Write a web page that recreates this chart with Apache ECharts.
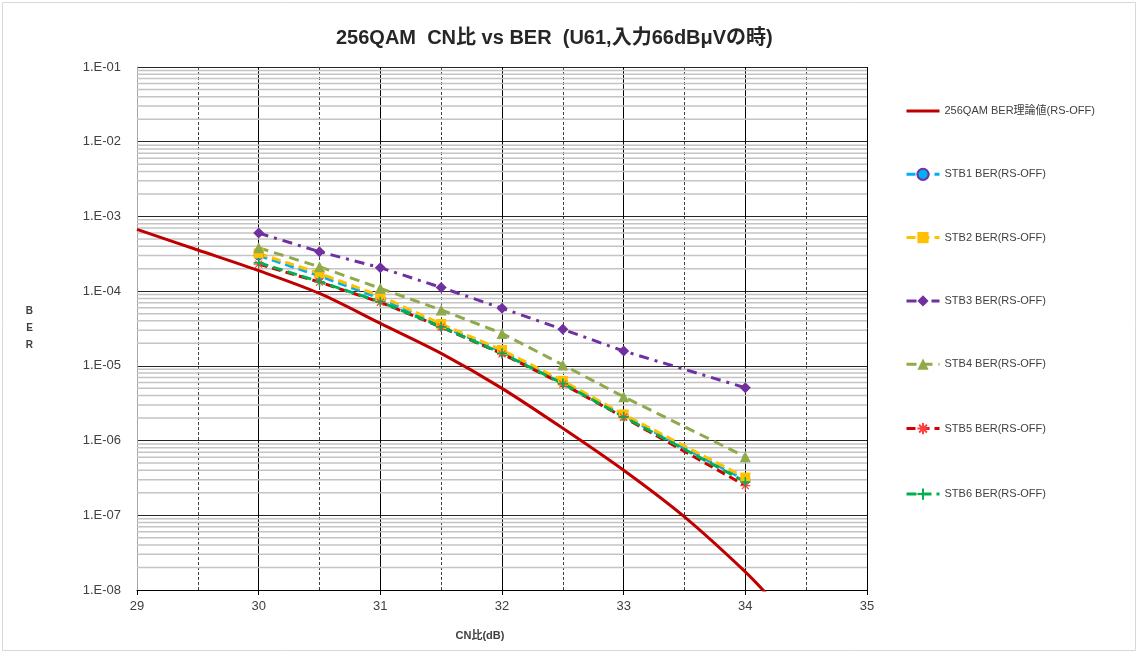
<!DOCTYPE html>
<html><head><meta charset="utf-8">
<script src="https://cdn.jsdelivr.net/npm/echarts@6/dist/echarts.min.js"></script>
<style>html,body{margin:0;padding:0;background:#fff}#c{width:1139px;height:655px}</style>
</head><body><div id="c"></div>
<script>
// ---- data ----
const titleText = '256QAM  CN比 vs BER  (U61,入力66dBμVの時)';
const xName = 'CN比(dB)';
const yName = 'B\nE\nR';
const theoryName = '256QAM BER理論値(RS-OFF)';
const theoryX = [29, 29.5, 30, 30.5, 31, 31.5, 32, 32.5, 33, 33.5, 34, 34.2];
const theoryY = [6.7e-4, 3.55e-4, 1.88e-4, 9.3e-5, 3.7e-5, 1.47e-5, 5.0e-6, 1.46e-6, 4.0e-7, 9.5e-8, 1.75e-8, 8e-9];
const cn = [30, 30.5, 31, 31.5, 32, 32.5, 33, 34];
const stbNames = ['STB1 BER(RS-OFF)','STB2 BER(RS-OFF)','STB3 BER(RS-OFF)','STB4 BER(RS-OFF)','STB5 BER(RS-OFF)','STB6 BER(RS-OFF)'];
const stb1 = [3.0e-4, 1.6e-4, 8.0e-5, 3.45e-5, 1.55e-5, 6.0e-6, 2.15e-6, 2.95e-7];
const stb2 = [3.2e-4, 1.73e-4, 8.6e-5, 3.63e-5, 1.63e-5, 6.3e-6, 2.24e-6, 3.2e-7];
const stb3 = [6.0e-4, 3.37e-4, 2.06e-4, 1.12e-4, 5.9e-5, 3.08e-5, 1.58e-5, 5.1e-6];
const stb4 = [3.8e-4, 2.12e-4, 1.09e-4, 5.6e-5, 2.72e-5, 1.03e-5, 3.86e-6, 6.07e-7];
const stb5 = [2.3e-4, 1.32e-4, 7.1e-5, 3.3e-5, 1.45e-5, 5.7e-6, 2.05e-6, 2.5e-7];
const stb6 = [2.4e-4, 1.34e-4, 7.2e-5, 3.34e-5, 1.47e-5, 5.8e-6, 2.08e-6, 2.8e-7];
const xTicks = {min: 29, max: 35, interval: 1};
const yTicks = {min: 1e-8, max: 1e-1};
const minorMant = [2,3,4,5,6,7,8,9];
const minorExp = [-8,-7,-6,-5,-4,-3,-2];

// ---- build ----
const pair = (xs, ys) => xs.map((x, i) => [x, ys[i]]);
const minorData = [];
minorExp.forEach(e => minorMant.forEach(m => {
  const v = m * Math.pow(10, e);
  minorData.push([xTicks.min, v], [xTicks.max, v], [xTicks.max, '-']);
}));
const FONT = "'Liberation Sans','Noto Sans CJK JP',sans-serif";
const asterisk = 'path://M0,5L10,5M5,0L5,10M1.5,1.5L8.5,8.5M8.5,1.5L1.5,8.5';
const plus = 'path://M0,5L10,5M5,0L5,10';

function stb(name, data, color, symbol, size, dash, extra) {
  return Object.assign({
    name: name, type: 'line', data: pair(cn, data),
    symbol: symbol, symbolSize: size,
    lineStyle: {color: color, width: 3, type: dash},
    itemStyle: {color: color},
    z: 3
  }, extra || {});
}

const chart = echarts.init(document.getElementById('c'));
chart.setOption({
  animation: false,
  backgroundColor: '#fff',
  title: {
    text: titleText, left: 331, top: 23,
    textStyle: {fontFamily: FONT, fontSize: 20, fontWeight: 'bold', color: '#262626'}
  },
  graphic: [{
    type: 'rect', shape: {x: 2.5, y: 2.5, width: 1133, height: 648},
    style: {fill: 'none', stroke: '#d9d9d9', lineWidth: 1}, silent: true
  }],
  grid: {left: 137, right: 272, top: 67, bottom: 65, containLabel: false},
  legend: {
    orient: 'vertical', left: 900, top: 99,
    itemWidth: 33, itemHeight: 14, itemGap: 49.3,
    lineStyle: {width: 3},
    textStyle: {fontFamily: FONT, fontSize: 11, color: '#404040', lineHeight: 14},
    data: [{name: theoryName, icon: 'path://M0,0L33,0L33,3L0,3Z'}].concat(stbNames)
  },
  xAxis: {
    type: 'value', min: xTicks.min, max: xTicks.max, interval: xTicks.interval,
    name: xName, nameLocation: 'middle', nameGap: 40,
    nameTextStyle: {fontFamily: FONT, fontSize: 11, fontWeight: 'bold', color: '#404040', padding: [0, 44, 0, 0]},
    axisLine: {show: true, lineStyle: {color: '#000', width: 1}},
    axisTick: {show: true, length: 5, lineStyle: {color: '#000'}},
    axisLabel: {fontFamily: FONT, fontSize: 13, color: '#404040', margin: 10},
    splitLine: {show: true, lineStyle: {color: '#000', width: 1}},
    minorTick: {show: false, splitNumber: 2},
    minorSplitLine: {show: true, lineStyle: {color: '#404040', width: 1, type: [3, 2]}}
  },
  yAxis: {
    type: 'log', logBase: 10, min: yTicks.min, max: yTicks.max,
    name: yName, nameLocation: 'middle', nameGap: 104, nameRotate: 0,
    nameTextStyle: {fontFamily: FONT, fontSize: 10, fontWeight: 'bold', color: '#404040', lineHeight: 17},
    axisLine: {show: true, lineStyle: {color: '#a6a6a6', width: 1}},
    axisTick: {show: false},
    axisLabel: {
      fontFamily: FONT, fontSize: 13, color: '#404040', margin: 16,
      formatter: v => { const e = Math.round(Math.log10(v)); return '1.E-' + String(-e).padStart(2, '0'); }
    },
    splitLine: {show: true, lineStyle: {color: '#262626', width: 1}}
  },
  series: [
    {
      name: '__minor', type: 'line', data: minorData, symbol: 'none', silent: true, z: 0,
      connectNulls: false, legendHoverLink: false, tooltip: {show: false},
      lineStyle: {color: '#c4c4c4', width: 1.5}
    },
    {
      name: theoryName, type: 'line', data: pair(theoryX, theoryY), smooth: 0.3,
      symbol: 'none', lineStyle: {color: '#C00000', width: 3}, itemStyle: {color: '#C00000'}, z: 4
    },
    stb(stbNames[0], stb1, '#00B0F0', 'circle', 9, [9, 5], {itemStyle: {color: '#00B0F0', borderColor: '#7030A0', borderWidth: 1}}),
    stb(stbNames[1], stb2, '#FFC000', 'rect', 10, [9, 5]),
    stb(stbNames[2], stb3, '#7030A0', 'diamond', 11, [10, 6, 3, 6]),
    stb(stbNames[3], stb4, '#8FAA4A', 'triangle', 11, [10, 6]),
    stb(stbNames[4], stb5, '#D00000', asterisk, 10, [9, 5], {itemStyle: {color: 'none', borderColor: '#FF4040', borderWidth: 1.2}}),
    stb(stbNames[5], stb6, '#00B050', plus, 10, [10, 5], {itemStyle: {color: 'none', borderColor: '#00B050', borderWidth: 1.5}})
  ]
});
</script>
</body></html>
